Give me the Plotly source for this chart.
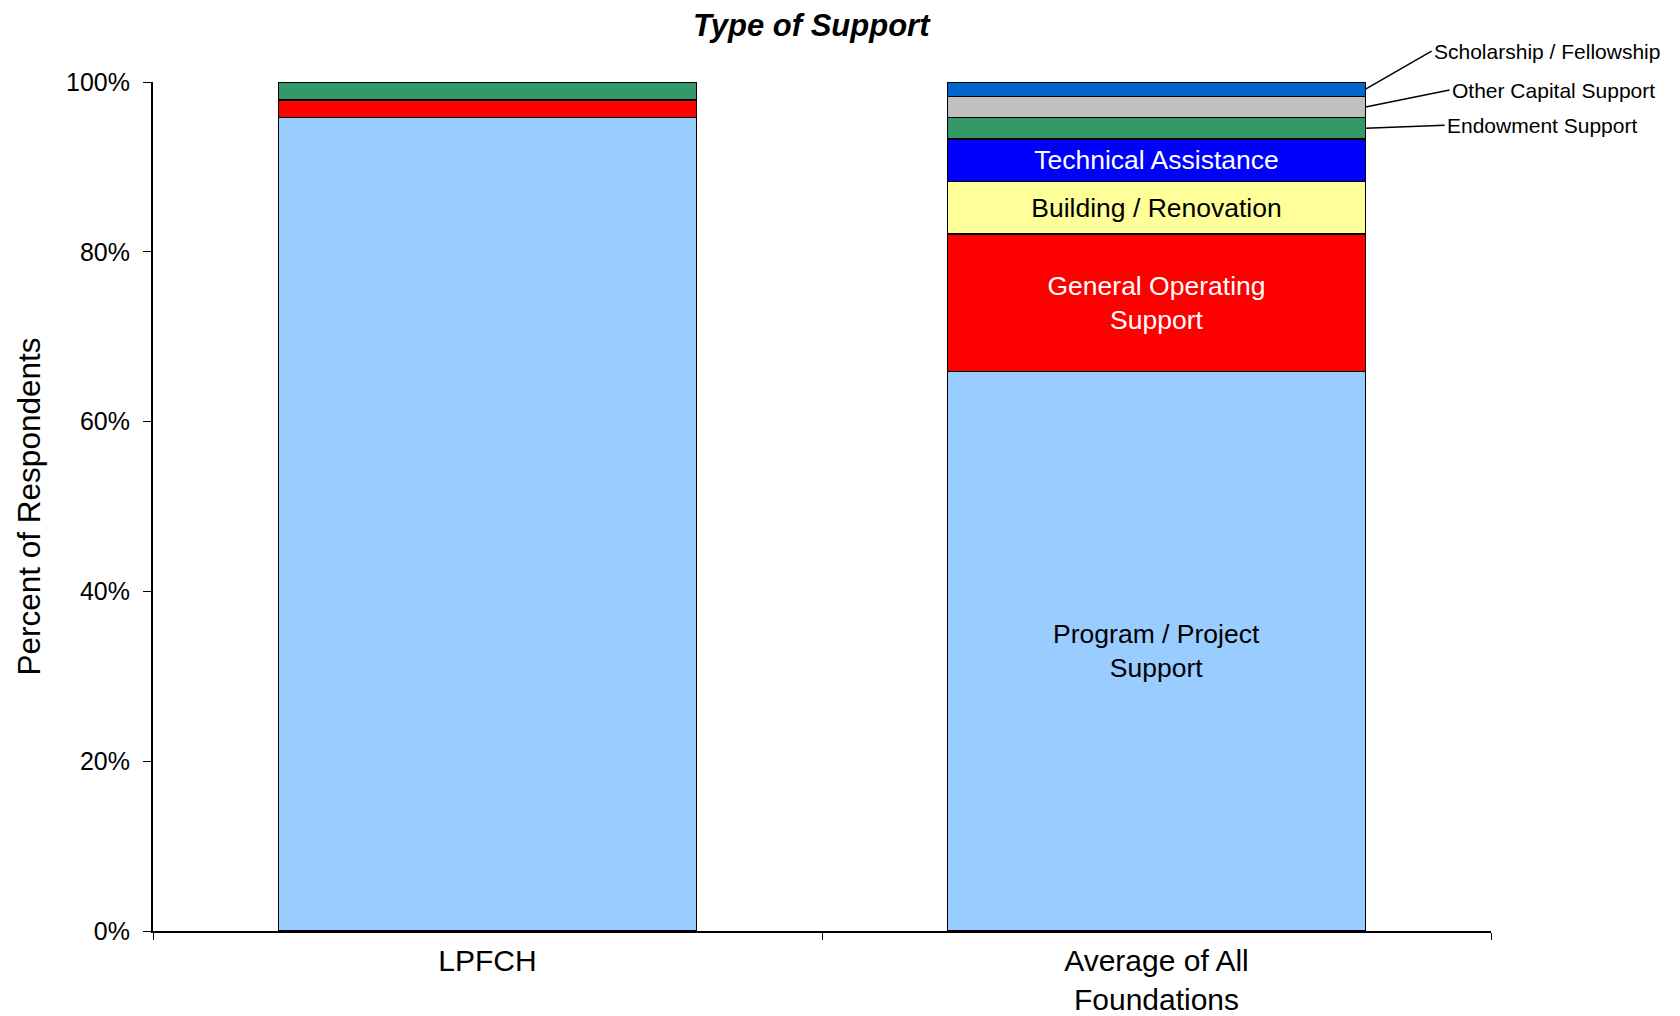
import plotly.graph_objects as go

categories = ["LPFCH", "Average of All<br>Foundations"]

series_names = [
    "Program / Project Support",
    "General Operating Support",
    "Building / Renovation",
    "Technical Assistance",
    "Endowment Support",
    "Other Capital Support",
    "Scholarship / Fellowship",
]
program = [95.8, 65.9]
general_operating = [2.1, 16.2]
building = [0, 6.2]
technical = [0, 5.0]
endowment = [2.1, 2.5]
other_capital = [0, 2.5]
scholarship = [0, 1.7]

series_values = [program, general_operating, building, technical,
                 endowment, other_capital, scholarship]
colors = ["#99CCFF", "#FF0000", "#FFFF99", "#0000FF", "#339966", "#C0C0C0", "#0066CC"]

# labels written inside the second bar
inside_labels = {
    0: ("Program / Project<br>Support", "black"),
    1: ("General Operating<br>Support", "white"),
    2: ("Building / Renovation", "black"),
    3: ("Technical Assistance", "white"),
}
# small segments labelled to the right with leader lines: (series index, dx, dy in px)
callouts = [(6, 66, -38), (5, 84, -17), (4, 79, -3)]

FONT = "Liberation Sans, Arial, sans-serif"
BAR_W = 0.625

fig = go.Figure()
for i, (name, vals, col) in enumerate(zip(series_names, series_values, colors)):
    text = ["", ""]
    tcol = "black"
    if i in inside_labels:
        text = ["", inside_labels[i][0]]
        tcol = inside_labels[i][1]
    fig.add_trace(go.Bar(
        x=categories, y=vals, name=name, marker_color=col,
        marker_line=dict(color="black", width=1.5),
        text=text, textposition="inside", insidetextanchor="middle",
        textangle=0, textfont=dict(color=tcol, size=26.5, family=FONT),
        width=BAR_W, hoverinfo="name+y",
    ))

for idx, dx, dy in callouts:
    vals = series_values[idx]
    bottom = sum(v[1] for v in series_values[:idx])
    fig.add_annotation(
        x=1 + BAR_W / 2, y=bottom + vals[1] / 2, xref="x", yref="y",
        text=series_names[idx], showarrow=True, arrowhead=0, arrowwidth=1.5,
        arrowcolor="black", ax=dx, ay=dy, xanchor="left",
        font=dict(size=21, family=FONT, color="black"),
    )

fig.update_layout(
    barmode="stack",
    width=1664, height=1008,
    margin=dict(l=145, r=181, t=74, b=85),
    paper_bgcolor="white", plot_bgcolor="white",
    showlegend=False,
    font=dict(family=FONT, color="black"),
    title=dict(text="<b><i>Type of Support</i></b>", x=0.4827, xanchor="center",
               y=0.9826, yanchor="middle", font=dict(size=31, family=FONT)),
)
fig.update_xaxes(
    type="category", range=[-0.5, 1.5], showline=True, linecolor="black", linewidth=2,
    ticks="outside", tickson="boundaries", ticklen=7, tickcolor="black",
    tickfont=dict(size=30, family=FONT), showgrid=False, automargin=False,
    ticklabelstandoff=2,
)
fig.update_yaxes(
    range=[0, 100], tickvals=[0, 20, 40, 60, 80, 100],
    ticktext=["0%", "20%", "40%", "60%", "80%", "100%"],
    showline=True, linecolor="black", linewidth=2,
    ticks="outside", ticklen=8, tickcolor="black", ticklabelstandoff=8,
    tickfont=dict(size=25, family=FONT), showgrid=False, zeroline=False,
    automargin=False,
    title=dict(text="Percent of Respondents", font=dict(size=31.5, family=FONT), standoff=16),
)

fig.write_html("out.html")
